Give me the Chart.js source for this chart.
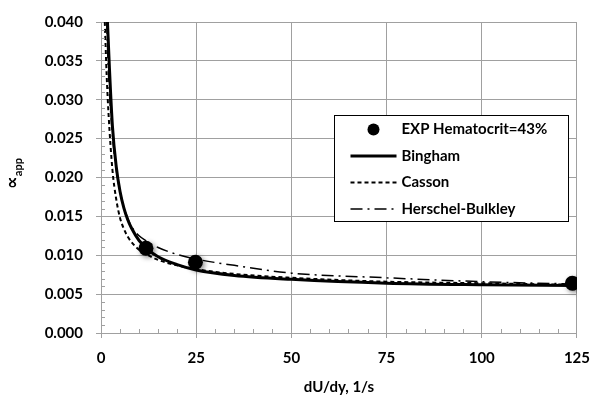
<!DOCTYPE html>
<html>
<head>
<meta charset="utf-8">
<script src="https://cdn.jsdelivr.net/npm/chart.js@4"></script>
<style>
  html, body { margin: 0; padding: 0; background: #fff; }
  #wrap { width: 601px; height: 396px; }
</style>
</head>
<body>
<div id="wrap"><canvas id="chart" width="601" height="396"></canvas></div>
<script>
// values
const expShear = [11.8, 24.8, 123.8];
const expAlpha = [0.0109, 0.0091, 0.0064];

const binghamShear = [1.7, 2.2, 3, 4, 5, 6, 7, 8, 10, 12, 15, 20, 25, 35, 50, 75, 100, 124];
const binghamAlpha = [0.0400, 0.0342, 0.0266, 0.0214, 0.0182, 0.0161, 0.0146, 0.0135, 0.0119, 0.0109, 0.0098, 0.0088, 0.0081, 0.0074, 0.0069, 0.0064, 0.0062, 0.0061];

const cassonShear = [1.0, 1.5, 2, 3, 4, 5, 6, 7, 8, 10, 12, 15, 20, 25, 35, 50, 75, 100, 124];
const cassonAlpha = [0.0400, 0.0330, 0.0280, 0.0210, 0.0172, 0.0148, 0.0134, 0.0124, 0.0117, 0.0107, 0.0101, 0.0094, 0.0087, 0.0082, 0.0076, 0.0071, 0.0066, 0.0064, 0.0062];

const hbShear = [1.5, 2, 3, 4, 5, 6, 7, 8, 10, 12, 15, 20, 25, 35, 50, 75, 100, 124];
const hbAlpha = [0.0400, 0.0330, 0.0255, 0.0210, 0.0182, 0.0162, 0.0148, 0.0137, 0.0125, 0.0118, 0.0110, 0.0101, 0.0095, 0.0087, 0.0077, 0.0071, 0.0066, 0.0063];

const seriesNames = ['EXP Hematocrit=43%', 'Bingham', 'Casson', 'Herschel-Bulkley'];
const xTitle = 'dU/dy, 1/s';

const toPts = (xs, ys) => xs.map((x, i) => ({ x: x, y: ys[i] }));

const FONT = 'Lato, "Open Sans", sans-serif';
const GRID = '#a0a0a0';

// minor tick marks (x every 5, y every 0.001), drawn inside the plot
const minorTicks = {
  id: 'minorTicks',
  afterDraw(chart) {
    const { ctx, scales: { x, y } } = chart;
    ctx.save();
    ctx.strokeStyle = GRID;
    ctx.lineWidth = 1;
    ctx.beginPath();
    for (let v = 5; v < 125; v += 5) {
      if (v % 25 === 0) continue;
      const px = Math.round(x.getPixelForValue(v)) + 0.5;
      ctx.moveTo(px, y.bottom);
      ctx.lineTo(px, y.bottom - 4);
    }
    for (let k = 1; k < 40; k++) {
      if (k % 5 === 0) continue;
      const py = Math.round(y.getPixelForValue(k / 1000)) + 0.5;
      ctx.moveTo(x.left, py);
      ctx.lineTo(x.left + 4, py);
    }
    ctx.stroke();
    ctx.restore();
  }
};

// y title: alpha with "app" subscript, rotated
const yTitle = {
  id: 'yTitle',
  afterDraw(chart) {
    const { ctx, chartArea } = chart;
    const cy = (chartArea.top + chartArea.bottom) / 2 - 4;
    const bigFont = 'bold 18px "DejaVu Sans", sans-serif';
    const subFont = 'bold 11px ' + FONT;
    ctx.save();
    ctx.translate(13, cy);
    ctx.rotate(-Math.PI / 2);
    ctx.fillStyle = '#000';
    ctx.textBaseline = 'middle';
    ctx.textAlign = 'left';
    ctx.font = bigFont;
    const w1 = ctx.measureText('\u221D').width;
    ctx.font = subFont;
    const w2 = ctx.measureText('app').width;
    const start = -(w1 + w2) / 2;
    ctx.font = bigFont;
    ctx.fillText('\u221D', start, 0);
    ctx.font = subFont;
    ctx.fillText('app', start + w1, 5);
    ctx.restore();
  }
};

// boxed legend inside the plot area
const boxLegend = {
  id: 'boxLegend',
  afterDraw(chart) {
    const { ctx, chartArea } = chart;
    const left = chartArea.left + 233.5;
    const top = chartArea.top + 93.5;
    const w = 234, h = 106;
    ctx.save();
    ctx.fillStyle = '#fff';
    ctx.fillRect(left, top, w, h);
    ctx.strokeStyle = '#000';
    ctx.lineWidth = 1;
    ctx.strokeRect(left, top, w, h);
    ctx.font = 'bold 15px ' + FONT;
    ctx.textBaseline = 'middle';
    ctx.fillStyle = '#000';
    chart.data.datasets.forEach((ds, i) => {
      const yy = top + 14 + i * 26.5;
      if (i === 0) {
        ctx.beginPath();
        ctx.arc(left + 39, yy, 6, 0, Math.PI * 2);
        ctx.fill();
      } else {
        ctx.save();
        ctx.strokeStyle = '#000';
        ctx.lineWidth = ds.borderWidth;
        ctx.setLineDash(ds.borderDash || []);
        ctx.beginPath();
        ctx.moveTo(left + 16, yy);
        ctx.lineTo(left + 62, yy);
        ctx.stroke();
        ctx.restore();
      }
      ctx.fillText(ds.label, left + 67, yy);
    });
    ctx.restore();
  }
};

// soft shadow under the measured points
const pointShadow = {
  id: 'pointShadow',
  beforeDatasetDraw(chart, args) {
    if (args.index !== 0) return;
    const ctx = chart.ctx;
    ctx.save();
    ctx.shadowColor = 'rgba(0,0,0,0.45)';
    ctx.shadowBlur = 5;
    ctx.shadowOffsetX = 2;
    ctx.shadowOffsetY = 2;
  },
  afterDatasetDraw(chart, args) {
    if (args.index !== 0) return;
    chart.ctx.restore();
  }
};

new Chart(document.getElementById('chart'), {
  type: 'scatter',
  data: {
    datasets: [
      {
        label: seriesNames[0],
        data: toPts(expShear, expAlpha),
        showLine: false,
        pointRadius: 7.5,
        pointBackgroundColor: '#000',
        pointBorderColor: '#000',
        borderWidth: 0
      },
      {
        label: seriesNames[1],
        data: toPts(binghamShear, binghamAlpha),
        showLine: true,
        borderColor: '#000',
        borderWidth: 3,
        pointRadius: 0,
        cubicInterpolationMode: 'monotone'
      },
      {
        label: seriesNames[2],
        data: toPts(cassonShear, cassonAlpha),
        showLine: true,
        borderColor: '#000',
        borderWidth: 2,
        borderDash: [4, 3],
        pointRadius: 0,
        cubicInterpolationMode: 'monotone'
      },
      {
        label: seriesNames[3],
        data: toPts(hbShear, hbAlpha),
        showLine: true,
        borderColor: '#000',
        borderWidth: 1.5,
        borderDash: [12, 5, 2, 5],
        pointRadius: 0,
        cubicInterpolationMode: 'monotone'
      }
    ]
  },
  options: {
    responsive: false,
    animation: false,
    layout: { padding: { left: 0, right: 14, top: 15, bottom: 0 } },
    plugins: {
      legend: { display: false },
      tooltip: { enabled: false }
    },
    scales: {
      x: {
        type: 'linear',
        min: 0,
        max: 125,
        afterFit: (s) => { s.height = 63; },
        ticks: {
          stepSize: 25,
          padding: 11,
          color: '#000',
          font: { family: FONT, size: 15, weight: 'bold' }
        },
        grid: { color: GRID, lineWidth: 1, tickLength: 5 },
        border: { color: GRID, width: 1 },
        title: {
          display: true,
          text: xTitle,
          color: '#000',
          padding: { top: 9, bottom: 0 },
          font: { family: FONT, size: 15, weight: 'bold' }
        }
      },
      y: {
        min: 0,
        max: 0.04,
        afterFit: (s) => { s.width = 101; },
        ticks: {
          stepSize: 0.005,
          padding: 13,
          color: '#000',
          font: { family: FONT, size: 15, weight: 'bold' },
          callback: (v) => v.toFixed(3)
        },
        grid: { color: GRID, lineWidth: 1, tickLength: 5 },
        border: { color: GRID, width: 1 }
      }
    }
  },
  plugins: [minorTicks, yTitle, boxLegend, pointShadow]
});
</script>
</body>
</html>
